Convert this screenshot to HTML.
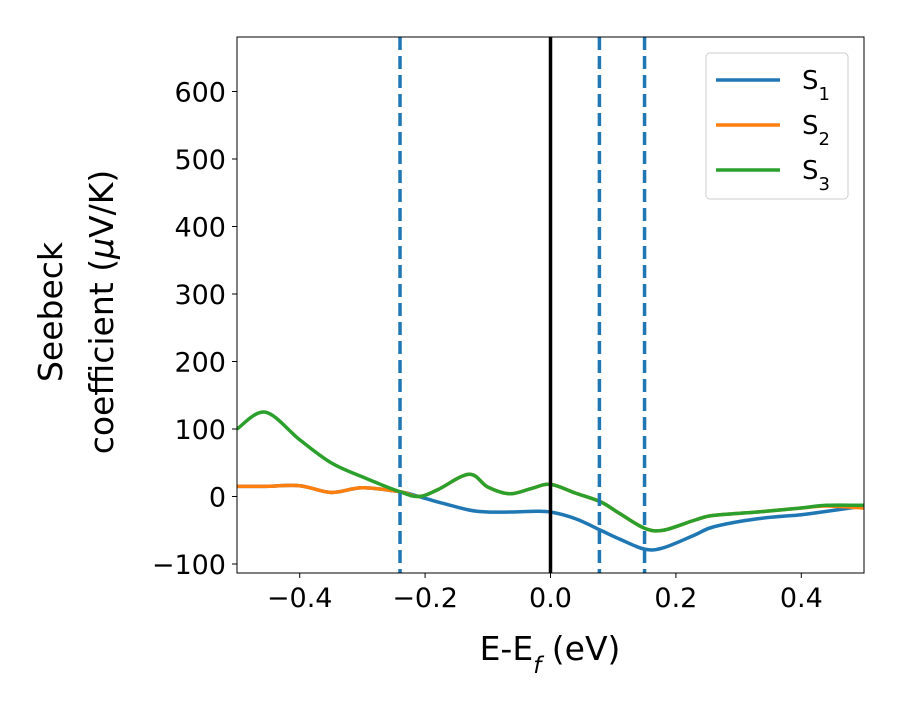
<!DOCTYPE html>
<html><head><meta charset="utf-8"><style>
body{margin:0;background:#fff}
text{font-family:"DejaVu Sans","Liberation Sans",sans-serif}
</style></head><body>
<svg id="c" width="900" height="700" xmlns="http://www.w3.org/2000/svg"></svg>
<script>
const xs=[-0.5,-0.455,-0.4,-0.35,-0.3,-0.24,-0.21,-0.18,-0.13,-0.1,-0.065,-0.03,0,0.04,0.08,0.11,0.15,0.18,0.23,0.26,0.33,0.4,0.44,0.5];
const s1=[15,15,16,6,13,7,0,-8,-20,-23,-23,-22,-23,-33,-50,-63,-78,-76,-57,-45,-33,-27,-22,-14];
const s2=[15,15,16,6,13,7,0,10,33,14,4,12,18,5,-8,-25,-47,-50,-35,-28,-23,-17,-14,-17];
const s3=[100,125,84,50,29,7,0,10,33,14,4,12,18,5,-8,-25,-47,-50,-35,-28,-23,-17,-13,-13];
const vlines=[-0.24,0.078,0.15];
const xTicks=[-0.4,-0.2,0,0.2,0.4];
const xTickLabels=["−0.4","−0.2","0.0","0.2","0.4"];
const yTicks=[-100,0,100,200,300,400,500,600];
const yTickLabels=["−100","0","100","200","300","400","500","600"];
const L=237,R=864,T=37,B=573;
const X=v=>L+(v+0.5)*(R-L);
const Y=v=>496.5-v*0.675;
const svg=document.getElementById('c');
const NS='http://www.w3.org/2000/svg';
function mk(t,a,name,txt){const e=document.createElementNS(NS,t);for(const k in a)e.setAttribute(k,a[k]);


if(txt!==undefined)e.textContent=txt;svg.appendChild(e);return e;}
const cp=mk('clipPath',{id:'clp'},'plot-clip');
const cr=document.createElementNS(NS,'rect');cr.setAttribute('x',L);cr.setAttribute('y',T);cr.setAttribute('width',R-L);cr.setAttribute('height',B-T);


cp.appendChild(cr);
function path(ys){const p=xs.map((x,i)=>[X(x),Y(ys[i])]);let d='M'+p[0][0]+','+p[0][1];
for(let i=0;i<p.length-1;i++){const p0=p[Math.max(0,i-1)],p1=p[i],p2=p[i+1],p3=p[Math.min(p.length-1,i+2)];
d+=' C'+(p1[0]+(p2[0]-p0[0])/6)+','+(p1[1]+(p2[1]-p0[1])/6)+' '+(p2[0]-(p3[0]-p1[0])/6)+','+(p2[1]-(p3[1]-p1[1])/6)+' '+p2[0]+','+p2[1];}return d;}
mk('path',{d:path(s1),fill:'none',stroke:'#1f77b4','stroke-width':3.5,'clip-path':'url(#clp)'},'series-s1');
mk('path',{d:path(s2),fill:'none',stroke:'#ff7f0e','stroke-width':3.5,'clip-path':'url(#clp)'},'series-s2');
mk('path',{d:path(s3),fill:'none',stroke:'#2ca02c','stroke-width':3.5,'clip-path':'url(#clp)'},'series-s3');
vlines.forEach(v=>mk('line',{x1:X(v),x2:X(v),y1:T,y2:B,stroke:'#1f77b4','stroke-width':3.5,'stroke-dasharray':'13,6'},'dashed-marker'));
mk('line',{x1:X(0),x2:X(0),y1:T,y2:B,stroke:'#000','stroke-width':3.5},'fermi-line');
mk('rect',{x:L,y:T,width:R-L,height:B-T,fill:'none',stroke:'#000','stroke-width':1},'plot-frame');
xTicks.forEach((v,i)=>{mk('line',{x1:X(v),x2:X(v),y1:B,y2:B+5,stroke:'#000'},'x-tick');
mk('text',{x:X(v),y:B+34,'font-size':27,'text-anchor':'middle'},'x-tick-label',xTickLabels[i]);});
yTicks.forEach((v,i)=>{mk('line',{x1:L-5,x2:L,y1:Y(v),y2:Y(v),stroke:'#000'},'y-tick');
mk('text',{x:L-11,y:Y(v)+10,'font-size':27,'text-anchor':'end'},'y-tick-label',yTickLabels[i]);});
const xt=mk('text',{x:550,y:660,'font-size':33,'text-anchor':'middle'},'x-axis-title');
xt.innerHTML='E-E<tspan baseline-shift="sub" font-size="23" font-style="italic">f</tspan> (eV)';
mk('text',{transform:'translate(62,312) rotate(-90)','font-size':33,'text-anchor':'middle'},'y-axis-title-line1','Seebeck');
const yt2=mk('text',{transform:'translate(113,312) rotate(-90)','font-size':33,'text-anchor':'middle'},'y-axis-title-line2');
yt2.innerHTML='coefficient  (<tspan font-style="italic">μ</tspan>V/K)';
mk('rect',{x:706,y:53,width:142,height:146,rx:4,fill:'#fff',stroke:'#ccc'},'legend-box');
[['#1f77b4','1'],['#ff7f0e','2'],['#2ca02c','3']].forEach((e,i)=>{const y=80+i*45;
mk('line',{x1:716,x2:780,y1:y,y2:y,stroke:e[0],'stroke-width':3.5},'legend-line');
const t=mk('text',{x:802,y:y+9,'font-size':26},'legend-entry');t.innerHTML='S<tspan baseline-shift="sub" font-size="18">'+e[1]+'</tspan>';});
</script>
</body></html>
